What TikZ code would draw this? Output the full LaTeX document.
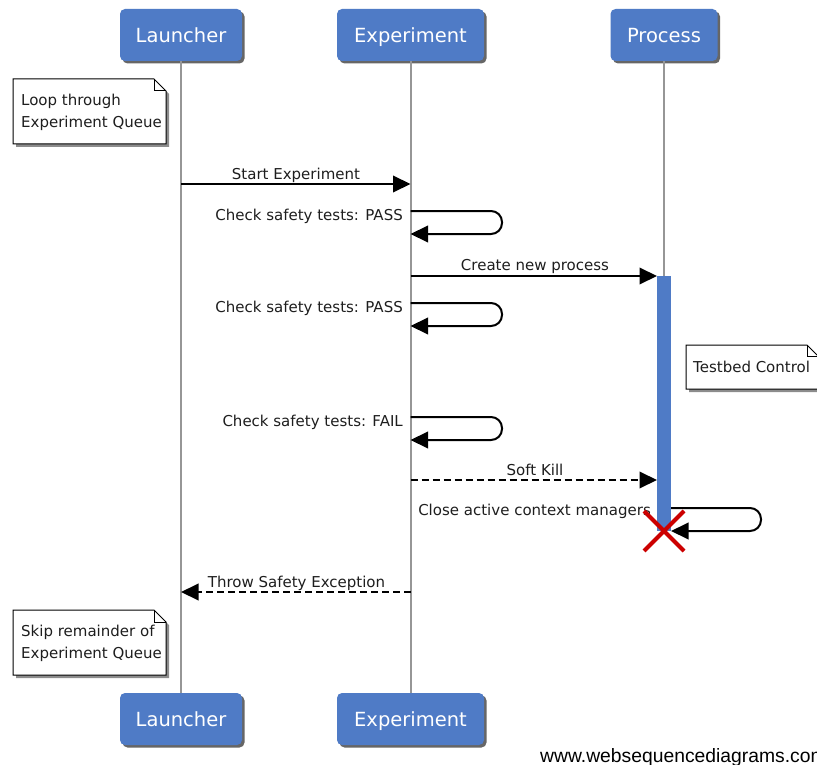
\documentclass[tikz,border=0pt]{standalone}
\usepackage{fontspec}
\setmainfont{DejaVu Sans}
\newfontfamily\wmfont{Liberation Sans}
\usetikzlibrary{arrows.meta,shadows,calc}
\definecolor{wsdblue}{RGB}{79,123,198}
\definecolor{lifegray}{RGB}{150,150,150}
\definecolor{xred}{RGB}{204,0,0}
\definecolor{txt}{RGB}{30,30,30}
\begin{document}
\begin{tikzpicture}[x=1pt,y=-1pt,
  head/.style={fill=wsdblue, rounded corners=5pt, text=white,
    font=\fontsize{19.5}{20}\selectfont, minimum height=52pt, inner sep=0pt,
    text height=14.2pt, text depth=0pt,
    drop shadow={shadow xshift=2.5pt, shadow yshift=-2.5pt, fill=black, opacity=0.6}},
  life/.style={draw=lifegray, line width=2pt},
  msg/.style={draw=black, line width=2pt, -{Triangle[length=17.5pt,width=16.5pt]}},
  dmsg/.style={msg, dash pattern=on 7pt off 4pt},
  loopmsg/.style={msg, rounded corners=11pt},
  lbl/.style={font=\fontsize{15}{18}\selectfont, text=txt, inner sep=0pt},
  notebody/.style={fill=white, draw=black, line width=1pt, line join=miter,
    drop shadow={shadow xshift=3pt, shadow yshift=-3pt, fill=black, opacity=0.45}},
  notefold/.style={draw=black, line width=1pt},
  notetext/.style={font=\fontsize{15}{22}\selectfont, text=txt, inner sep=0pt, align=left},
  actbar/.style={fill=wsdblue, inner sep=0pt, minimum width=14pt},
  xmark/.style={draw=xred, line width=4pt}
]
\clip (0,0) rectangle (817,765);
\fill[white] (0,0) rectangle (817,765);

% participants
\node[head, minimum width=122pt] (lt) at (181,35) {Launcher};
\node[head, minimum width=147pt] (et) at (410.5,35) {Experiment};
\node[head, minimum width=107pt] (ptop) at (664,35) {Process};
\node[head, minimum width=122pt] (lb) at (181,719) {Launcher};
\node[head, minimum width=147pt] (eb) at (410.5,719) {Experiment};

% destruction point
\coordinate (px) at (664,531);

% lifelines
\draw[life] (lt.south) -- (lb.north);
\draw[life] (et.south) -- (eb.north);
\draw[life] (ptop.south) -- (px);

% activation bar
\node[actbar, minimum height=255pt, anchor=north] (act) at (664,276) {};

% message end points
\coordinate (m1s) at (181,184);   \coordinate (m1e) at (410.5,184);
\coordinate (m2s) at (410.5,211); \coordinate (m2e) at (410.5,234);
\coordinate (m3s) at (410.5,276); \coordinate (m3e) at (657,276);
\coordinate (m4s) at (410.5,303); \coordinate (m4e) at (410.5,326);
\coordinate (m5s) at (410.5,417); \coordinate (m5e) at (410.5,440);
\coordinate (m6s) at (410.5,480); \coordinate (m6e) at (657,480);
\coordinate (m7s) at (671,508);   \coordinate (m7e) at (671,531);
\coordinate (m8s) at (410.5,592); \coordinate (m8e) at (181,592);
\coordinate (loopE) at (502,0);
\coordinate (loopP) at (761,0);

% messages
\draw[msg] (m1s) -- (m1e);
\node[lbl, anchor=base] (l1) at (296,179) {Start Experiment};

\draw[loopmsg] (m2s) -- (m2s -| loopE) -- (m2e -| loopE) -- (m2e);
\node[lbl, anchor=base east] (l2) at (403,220) {Check safety tests: PASS};

\draw[msg] (m3s) -- (m3e);
\node[lbl, anchor=base] (l3) at (535,270) {Create new process};

\draw[loopmsg] (m4s) -- (m4s -| loopE) -- (m4e -| loopE) -- (m4e);
\node[lbl, anchor=base east] (l4) at (403,312) {Check safety tests: PASS};

\draw[loopmsg] (m5s) -- (m5s -| loopE) -- (m5e -| loopE) -- (m5e);
\node[lbl, anchor=base east] (l5) at (403,426) {Check safety tests: FAIL};

\draw[dmsg] (m6s) -- (m6e);
\node[lbl, anchor=base] (l6) at (535,475) {Soft Kill};

\node[lbl, anchor=base east] (l7) at (651,515) {Close active context managers};
\draw[loopmsg] (m7s) -- (m7s -| loopP) -- (m7e -| loopP) -- (m7e);

% destroy mark
\draw[xmark] ($(px)+(-20pt,20pt)$) -- ($(px)+(20pt,-20pt)$);
\draw[xmark] ($(px)+(-20pt,-20pt)$) -- ($(px)+(20pt,20pt)$);

\draw[dmsg] (m8s) -- (m8e);
\node[lbl, anchor=base] (l8) at (296.5,587) {Throw Safety Exception};

% notes
\path[notebody] (13,79) -- (154,79) -- (166,91) -- (166,144) -- (13,144) -- cycle;
\draw[notefold] (154,79) -- (154,91) -- (166,91);
\node[notetext, anchor=north west] (n1) at (21,93.6) {Loop through\\Experiment Queue};

\path[notebody] (686,345) -- (807,345) -- (818,356) -- (818,389) -- (686,389) -- cycle;
\draw[notefold] (807,345) -- (807,356) -- (818,356);
\node[lbl, anchor=base west] (n3) at (693,372) {Testbed Control};

\path[notebody] (13,610) -- (154,610) -- (166,622) -- (166,675) -- (13,675) -- cycle;
\draw[notefold] (154,610) -- (154,622) -- (166,622);
\node[notetext, anchor=north west] (n2) at (21,624.6) {Skip remainder of\\Experiment Queue};

% watermark
\node[anchor=base west, inner sep=0pt, font=\wmfont\fontsize{19.3}{20}\selectfont] (wm) at (540,762) {www.websequencediagrams.com};
\end{tikzpicture}
\end{document}
